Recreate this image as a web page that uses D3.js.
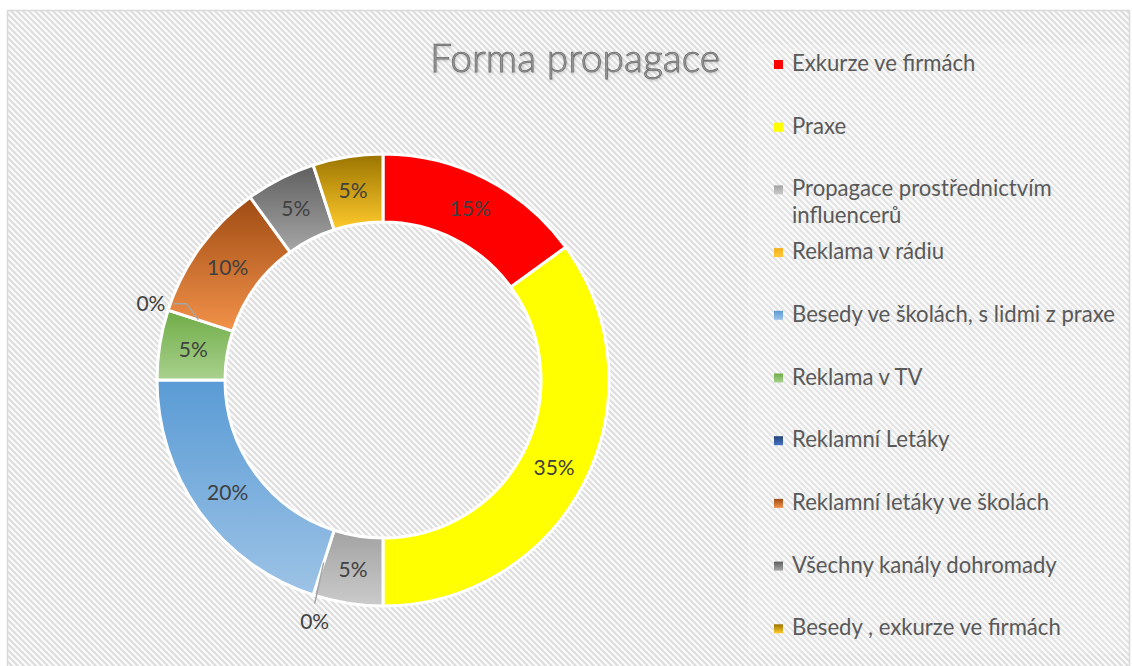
<!DOCTYPE html>
<html>
<head>
<meta charset="utf-8">
<script src="https://cdn.jsdelivr.net/npm/d3@7"></script>
<style>
  html, body { margin: 0; padding: 0; background: #ffffff; }
  svg { display: block; }
  text { font-family: Lato, "Open Sans", sans-serif; }
</style>
</head>
<body>
<svg id="chart" width="1132" height="666"></svg>
<script>
// Survey answers: how the respondents learned about the offer
const categories = [
  "Exkurze ve firmách",
  "Praxe",
  "Propagace prostřednictvím influencerů",
  "Reklama v rádiu",
  "Besedy ve školách, s lidmi z praxe",
  "Reklama v TV",
  "Reklamní Letáky",
  "Reklamní letáky ve školách",
  "Všechny kanály dohromady",
  "Besedy , exkurze ve firmách"
];
const counts = [3, 7, 1, 0, 4, 1, 0, 2, 1, 1];

// Gradient end colours per category (top -> bottom)
const colorTop = ["#ff0000", "#ffff00", "#a2a2a2", "#f2b01e", "#5a9bd5", "#6fac46", "#264478", "#9f4b13", "#5f5f5f", "#9a7400"];
const colorBottom = ["#ff0000", "#ffff00", "#cbcbcb", "#ffc93a", "#9dc3e6", "#a9d18e", "#4472c4", "#f2924a", "#a6a6a6", "#ffca2c"];

// Legend lines (long entries wrap)
const legendLines = [
  ["Exkurze ve firmách"],
  ["Praxe"],
  ["Propagace prostřednictvím", "influencerů"],
  ["Reklama v rádiu"],
  ["Besedy ve školách, s lidmi z praxe"],
  ["Reklama v TV"],
  ["Reklamní Letáky"],
  ["Reklamní letáky ve školách"],
  ["Všechny kanály dohromady"],
  ["Besedy , exkurze ve firmách"]
];

const titleText = "Forma propagace";

const W = 1132, H = 666;
const svg = d3.select("#chart");
const defs = svg.append("defs");

// Diagonal hatch used for the chart area
const hatch = defs.append("pattern")
  .attr("id", "hatch")
  .attr("patternUnits", "userSpaceOnUse")
  .attr("width", 6).attr("height", 6);
hatch.append("rect").attr("width", 6).attr("height", 6).attr("fill", "#fbfbfb");
hatch.append("path")
  .attr("d", "M-1,-1 L7,7 M-4,2 L2,8 M4,-2 L10,4")
  .attr("stroke", "#dedede").attr("stroke-width", 2.2);

// Per-category vertical gradients
categories.forEach((c, i) => {
  const g = defs.append("linearGradient")
    .attr("id", "grad" + i)
    .attr("x1", 0).attr("y1", 0).attr("x2", 0).attr("y2", 1);
  g.append("stop").attr("offset", "0%").attr("stop-color", colorTop[i]);
  g.append("stop").attr("offset", "100%").attr("stop-color", colorBottom[i]);
});

// Title shadow
const shadow = defs.append("filter").attr("id", "tshadow")
  .attr("x", "-10%").attr("y", "-20%").attr("width", "120%").attr("height", "150%");
shadow.append("feDropShadow")
  .attr("dx", 0.8).attr("dy", 1.2).attr("stdDeviation", 0.8)
  .attr("flood-color", "#000").attr("flood-opacity", 0.18);

// Chart area
svg.append("rect")
  .attr("x", 7.5).attr("y", 10.5)
  .attr("width", W - 10).attr("height", H)
  .attr("fill", "url(#hatch)")
  .attr("stroke", "#d9d9d9").attr("stroke-width", 1.5);

// Legend panel (slightly lighter)
svg.append("rect")
  .attr("x", 748).attr("y", 44)
  .attr("width", 380).attr("height", 610)
  .attr("fill", "#ffffff").attr("opacity", 0.18);

// Title
svg.append("text")
  .attr("x", 575).attr("y", 72)
  .attr("text-anchor", "middle")
  .attr("font-size", 39)
  .attr("font-weight", 300)
  .attr("textLength", 290)
  .attr("lengthAdjust", "spacingAndGlyphs")
  .attr("fill", "#9a9a9a")
  .attr("stroke", "#6c6c6c")
  .attr("stroke-width", 0.75)
  .attr("filter", "url(#tshadow)")
  .text(titleText);

// Donut
const cx = 383, cy = 380;
const outerR = 226, innerR = 158;
const data = categories.map((c, i) => ({ name: c, value: counts[i], idx: i }));
const total = d3.sum(counts);
const pct = d3.format(".0%");

const pie = d3.pie().sort(null).value(d => d.value);
const arcs = pie(data);
const arc = d3.arc().innerRadius(innerR).outerRadius(outerR);

const gPie = svg.append("g").attr("transform", `translate(${cx},${cy})`);
gPie.selectAll("path.slice")
  .data(arcs.filter(a => a.data.value > 0))
  .join("path")
  .attr("class", "slice")
  .attr("d", arc)
  .attr("fill", d => `url(#grad${d.data.idx})`)
  .attr("stroke", "#ffffff")
  .attr("stroke-width", 3)
  .attr("stroke-linejoin", "miter");

// Data labels
const labelArc = d3.arc().innerRadius((innerR + outerR) / 2).outerRadius((innerR + outerR) / 2);
const labelColor = "#404040";
const labelSize = 21;

// Leader layout for the empty categories (offsets from the ring midline)
const leaderLayout = {
  "Reklama v rádiu": { pts: [[0, 0], [-9, 41]], label: [-9, 66], anchor: "middle" },
  "Reklamní Letáky": { pts: [[-2, -1], [-14, -17], [-27, -17]], label: [-35, -10], anchor: "end" }
};

arcs.forEach(a => {
  const [x, y] = labelArc.centroid(a);
  const txt = pct(a.data.value / total);
  if (a.data.value > 0) {
    gPie.append("text")
      .attr("x", x).attr("y", y + 7.5)
      .attr("text-anchor", "middle")
      .attr("font-size", labelSize)
      .attr("fill", labelColor)
      .text(txt);
  } else {
    const lay = leaderLayout[a.data.name];
    gPie.append("path")
      .attr("d", d3.line()(lay.pts.map(p => [x + p[0], y + p[1]])))
      .attr("fill", "none")
      .attr("stroke", "#a6a6a6")
      .attr("stroke-width", 1.5);
    gPie.append("text")
      .attr("x", x + lay.label[0]).attr("y", y + lay.label[1])
      .attr("text-anchor", lay.anchor)
      .attr("font-size", labelSize)
      .attr("fill", labelColor)
      .text(txt);
  }
});

// Legend
const legendX = 774, legendTextX = 792, legendY0 = 64, legendStep = 62.7;
const gLeg = svg.append("g");
legendLines.forEach((lines, i) => {
  const y = legendY0 + i * legendStep;
  gLeg.append("rect")
    .attr("x", legendX).attr("y", y - 4)
    .attr("width", 9).attr("height", 9)
    .attr("fill", `url(#grad${i})`);
  const t = gLeg.append("text")
    .attr("x", legendTextX).attr("y", y + 7)
    .attr("font-size", 20)
    .attr("fill", "#595959");
  lines.forEach((ln, j) => {
    t.append("tspan")
      .attr("x", legendTextX)
      .attr("dy", j === 0 ? 0 : 27)
      .text(ln);
  });
});

// Fit legend font so the widest entry spans the available width
let widest = 0;
gLeg.selectAll("tspan").each(function () {
  widest = Math.max(widest, this.getComputedTextLength());
});
if (widest > 0) {
  const fs = 20 * 323 / widest;
  gLeg.selectAll("text").attr("font-size", fs.toFixed(2));
}
</script>
</body>
</html>
